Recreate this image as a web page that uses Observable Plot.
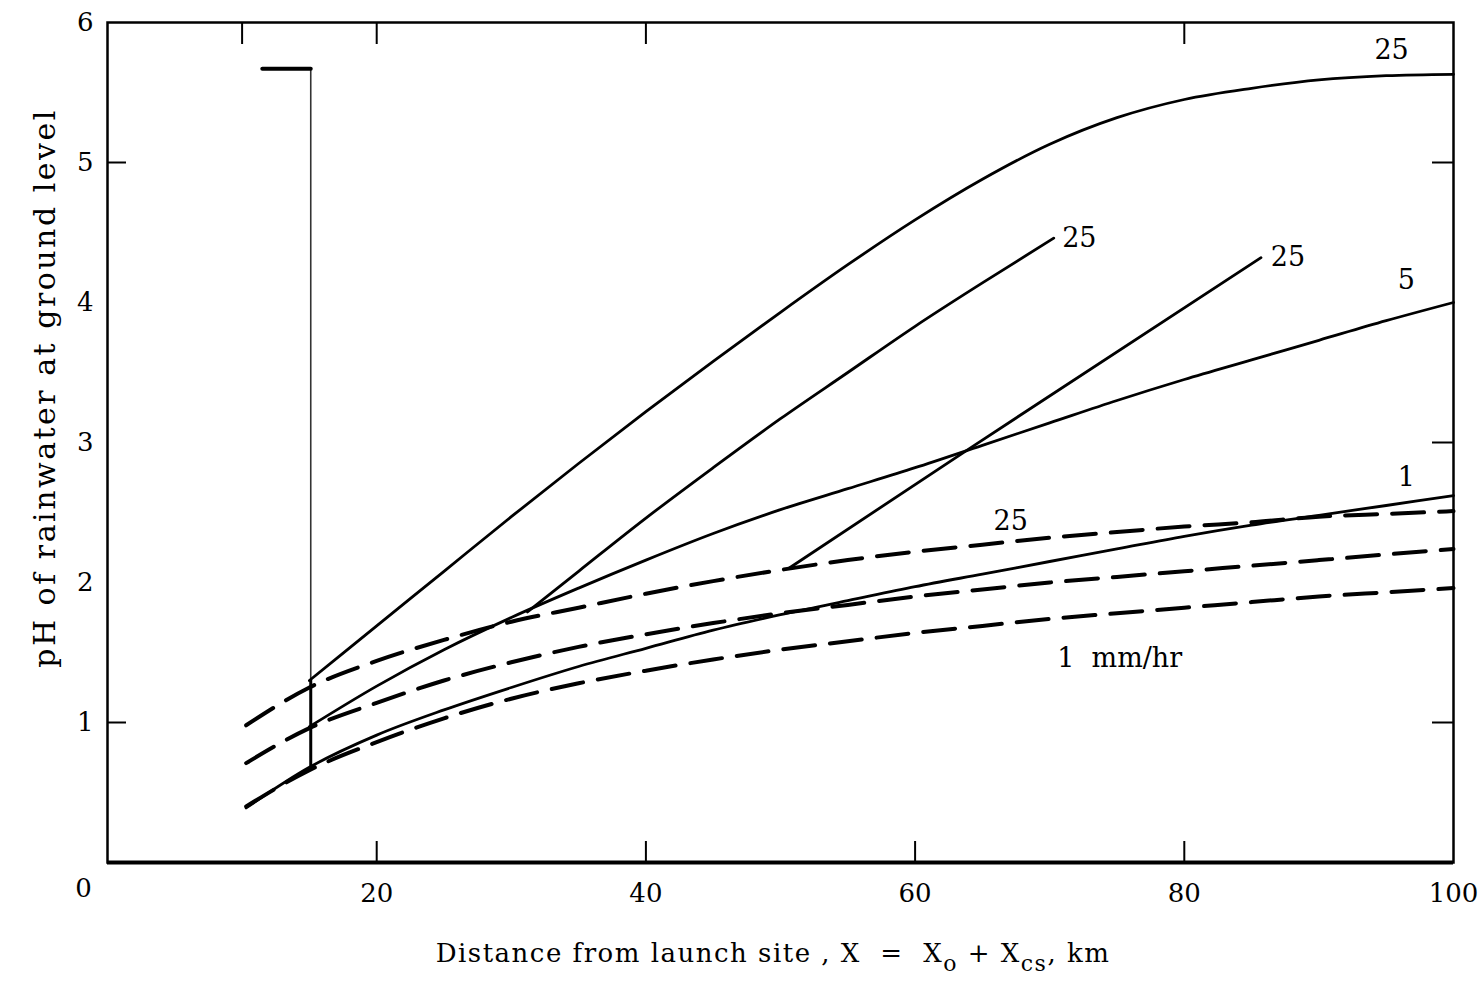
<!DOCTYPE html>
<html><head><meta charset="utf-8">
<script src="https://cdn.jsdelivr.net/npm/d3@7"></script>
<script src="https://cdn.jsdelivr.net/npm/@observablehq/plot@0.6"></script>
<style>body{margin:0;background:#fff} svg{display:block}</style>
</head><body><div id="chart"></div>
<script>
// ---- data ----
const distX = [10.3, 15, 20, 25, 30, 35, 40, 45, 50, 55, 60, 65, 70, 75, 80, 85, 90, 95, 100];

// solid curves
const solid25X = [15, 20, 25, 30, 35, 40, 45, 50, 55, 60, 65, 70, 75, 80, 85, 90, 95, 100];
const solid25Y = [1.30, 1.69, 2.08, 2.47, 2.85, 3.22, 3.58, 3.93, 4.27, 4.59, 4.88, 5.13, 5.32, 5.45, 5.53, 5.59, 5.62, 5.63];
const branch25aX = [31.2, 35, 40, 45, 50, 55, 60, 65, 70.3];
const branch25aY = [1.79, 2.08, 2.46, 2.82, 3.17, 3.50, 3.83, 4.14, 4.46];
const branch25bX = [50.6, 64.4, 85.7];
const branch25bY = [2.10, 2.98, 4.32];
const solid5X = [15, 20, 25, 30, 35, 40, 45, 50, 55, 60, 65, 70, 75, 80, 85, 90, 95, 100];
const solid5Y = [0.97, 1.26, 1.52, 1.75, 1.96, 2.16, 2.35, 2.52, 2.67, 2.82, 2.98, 3.14, 3.30, 3.45, 3.59, 3.73, 3.87, 4.00];
const solid1Y = [0.39, 0.68, 0.91, 1.09, 1.25, 1.40, 1.53, 1.66, 1.77, 1.87, 1.97, 2.06, 2.15, 2.24, 2.33, 2.41, 2.48, 2.55, 2.62];

// dashed curves
const dashed25Y = [0.98, 1.25, 1.44, 1.59, 1.72, 1.82, 1.92, 2.01, 2.09, 2.16, 2.22, 2.27, 2.32, 2.36, 2.40, 2.43, 2.47, 2.49, 2.51];
const dashed5Y  = [0.71, 0.96, 1.14, 1.30, 1.43, 1.54, 1.63, 1.71, 1.78, 1.84, 1.90, 1.95, 2.00, 2.04, 2.08, 2.12, 2.16, 2.20, 2.24];
const dashed1Y  = [0.40, 0.66, 0.86, 1.03, 1.17, 1.28, 1.37, 1.45, 1.52, 1.58, 1.64, 1.69, 1.74, 1.78, 1.82, 1.86, 1.90, 1.93, 1.96];

// index marker (vertical bar with flag)
const markerX = [15.1];
const markerLowY = [0.68];
const markerHighY = [5.67];
const markerFlagX = [11.5, 15.1];
const markerFlagY = [5.67, 5.67];

// curve labels
const labelText = ["25", "25", "25", "5", "1", "25", "1  mm/hr"];
const labelX = [95.4, 72.2, 87.7, 96.5, 96.5, 67.1, 75.2];
const labelY = [5.80, 4.46, 4.32, 4.16, 2.75, 2.44, 1.46];

// axes
const xTickLabels = [20, 40, 60, 80, 100];
const originLabel = [0];
const yTickLabels = [1, 2, 3, 4, 5, 6];
const bottomTicks = [20, 40, 60, 80];
const topTicks = [10, 20, 40, 80];
const leftTicks = [1, 5];
const rightTicks = [1, 3, 5];
const yTitle = "pH of rainwater at ground level";

// ---- build tables ----
const rows = (name, xs, ys) => xs.map((x, i) => ({series: name, x, y: ys[i]}));
const solidRows = [
  ...rows("25 top", solid25X, solid25Y),
  ...rows("25 a", branch25aX, branch25aY),
  ...rows("25 b", branch25bX, branch25bY),
  ...rows("5", solid5X, solid5Y),
  ...rows("1", distX, solid1Y)
];
const dashedRows = [
  ...rows("25 dashed", distX, dashed25Y),
  ...rows("5 dashed", distX, dashed5Y),
  ...rows("1 dashed", distX, dashed1Y)
];
const markerRows = markerX.map((x, i) => ({x, y1: markerLowY[i], y2: markerHighY[i], yMid: solid25Y[0]}));
const flagRows = rows("flag", markerFlagX, markerFlagY);
const labels = labelText.map((t, i) => ({t, x: labelX[i], y: labelY[i]}));

const W = 1482, H = 985, mL = 107, mR = 29, mT = 22, mB = 123;
const innerW = W - mL - mR, innerH = H - mT - mB;
const FONT = "DejaVu Serif";

const chart = Plot.plot({
  width: W, height: H,
  marginLeft: mL, marginRight: mR, marginTop: mT, marginBottom: mB,
  x: {domain: [0, 100]},
  y: {domain: [0, 6]},
  style: {fontFamily: FONT, background: "white", color: "black"},
  marks: [
    Plot.frame({stroke: "black", strokeWidth: 2.5}),
    Plot.ruleY([0], {stroke: "black", strokeWidth: 4}),
    Plot.ruleX(bottomTicks, {x: d => d, insetTop: innerH - 21, strokeWidth: 2}),
    Plot.ruleX(topTicks, {x: d => d, insetBottom: innerH - 22, strokeWidth: 2}),
    Plot.ruleY(leftTicks, {y: d => d, insetRight: innerW - 19, strokeWidth: 2}),
    Plot.ruleY(rightTicks, {y: d => d, insetLeft: innerW - 21, strokeWidth: 2}),
    Plot.axisX(xTickLabels, {anchor: "bottom", tickSize: 0, tickPadding: 21, fontSize: 26, tickFormat: d => String(d), label: null}),
    Plot.axisX(originLabel, {anchor: "bottom", tickSize: 0, tickPadding: 16, dx: -24, fontSize: 26, tickFormat: d => String(d), label: null}),
    Plot.axisY(yTickLabels, {anchor: "left", tickSize: 0, tickPadding: 14, fontSize: 26, tickFormat: d => String(d), label: null}),
    Plot.ruleX(markerRows, {x: "x", y1: "y1", y2: "y2", stroke: "#333", strokeWidth: 1.6}),
    Plot.ruleX(markerRows, {x: "x", y1: "y1", y2: "yMid", stroke: "black", strokeWidth: 3}),
    Plot.line(flagRows, {x: "x", y: "y", stroke: "black", strokeWidth: 4}),
    Plot.line(dashedRows, {x: "x", y: "y", z: "series", curve: "monotone-x", stroke: "black", strokeWidth: 4, strokeDasharray: "32,15"}),
    Plot.line(solidRows, {x: "x", y: "y", z: "series", curve: "monotone-x", stroke: "black", strokeWidth: 2.8}),
    Plot.text(labels, {x: "x", y: "y", text: "t", fontSize: 27, fill: "black"})
  ]
});
document.getElementById("chart").appendChild(chart);
const svg = d3.select(chart);

// y-axis title
svg.append("text")
  .attr("transform", `translate(47,388) rotate(-90)`)
  .attr("text-anchor", "middle").attr("dominant-baseline", "middle")
  .attr("font-family", FONT).attr("font-size", 30).attr("letter-spacing", 2.5)
  .attr("fill", "black").text(yTitle);

// x-axis title with subscripts
const xs = chart.scale("x");
const t = svg.append("text")
  .attr("x", xs.apply(50) - 7).attr("y", H - 23)
  .attr("text-anchor", "middle")
  .attr("font-family", FONT).attr("font-size", 26).attr("letter-spacing", 1.5).attr("fill", "black");
t.append("tspan").text("Distance from launch site , X  =  X");
t.append("tspan").attr("dy", 9).attr("font-size", 22).text("o");
t.append("tspan").attr("dy", -9).text(" + X");
t.append("tspan").attr("dy", 9).attr("font-size", 22).text("cs");
t.append("tspan").attr("dy", -9).text(", km");
</script>
</body></html>
